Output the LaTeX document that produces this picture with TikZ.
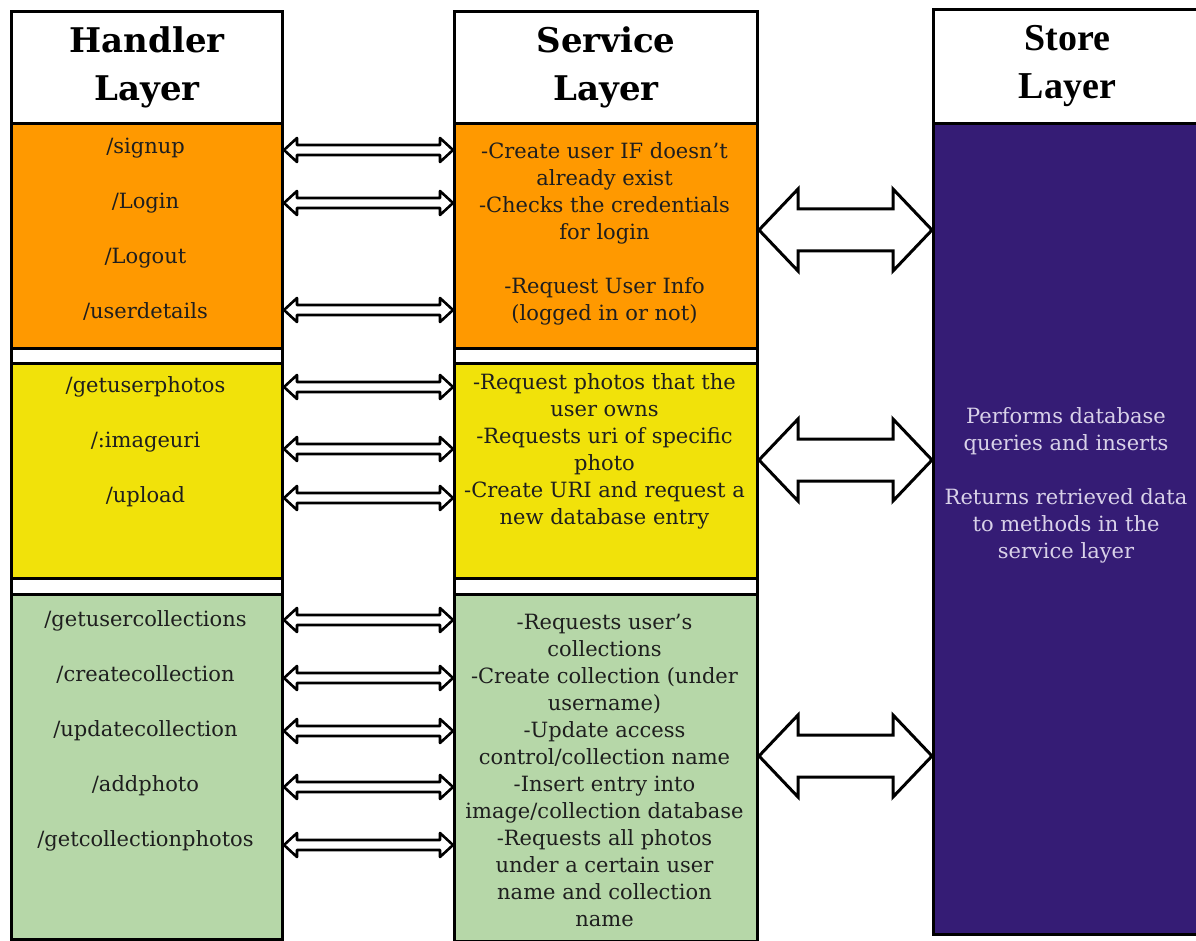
\documentclass[tikz,border=0pt]{standalone}
\usepackage{fontspec}
\setmainfont{DejaVu Serif}
\newfontfamily\timesfont{Liberation Serif}
\usetikzlibrary{calc}
\definecolor{orangeB}{HTML}{FF9900}
\definecolor{yellowB}{HTML}{F1E20A}
\definecolor{greenB}{HTML}{B6D7A8}
\definecolor{purpleB}{HTML}{351C75}
\definecolor{lavender}{HTML}{D9D2E9}
\definecolor{txt}{HTML}{1E1E1E}
% #1 left node, #2 right node, #3 y, #4 head length, #5 head half height, #6 shaft half height, #7 style
\newcommand{\dArrow}[7]{%
  \draw[#7] let \p1=(#1.east |- 0,#3), \p2=(#2.west |- 0,#3) in
  (\x1,\y1) -- (\x1+#4,\y1+#5) -- (\x1+#4,\y1+#6) -- (\x2-#4,\y1+#6)
  -- (\x2-#4,\y1+#5) -- (\x2,\y1) -- (\x2-#4,\y1-#5) -- (\x2-#4,\y1-#6)
  -- (\x1+#4,\y1-#6) -- (\x1+#4,\y1-#5) -- cycle;}
\begin{document}
\begin{tikzpicture}[x=1pt,y=-1pt,
  box/.style={draw=black, line width=3pt, rectangle, inner sep=0pt, anchor=north west},
  hdr/.style={font=\fontsize{34}{48}\selectfont\bfseries, align=center, text=black},
  shdr/.style={font=\timesfont\fontsize{38}{48}\selectfont\bfseries, align=center, text=black},
  item/.style={font=\fontsize{21}{55}\selectfont, align=center, text=txt},
  desc/.style={font=\fontsize{21}{27}\selectfont, align=center, text=txt},
  smallarr/.style={draw=black, line width=2.6pt, fill=white, line join=round},
  bigarr/.style={draw=black, line width=3pt, fill=white, line join=miter}]
\useasboundingbox[fill=white] (0,0) rectangle (1196,941);

% Handler column
\node[box, fill=white, minimum width=271pt, minimum height=112pt, hdr] (hh) at (10,10) {Handler\\Layer};
\node[box, fill=orangeB, minimum width=271pt, minimum height=225pt] (ho) at (10,122) {};
\node[box, fill=white, minimum width=271pt, minimum height=15pt] (hw1) at (10,347) {};
\node[box, fill=yellowB, minimum width=271pt, minimum height=215pt] (hy) at (10,362) {};
\node[box, fill=white, minimum width=271pt, minimum height=16pt] (hw2) at (10,577) {};
\node[box, fill=greenB, minimum width=271pt, minimum height=345pt] (hg) at (10,593) {};

% Service column
\node[box, fill=white, minimum width=303pt, minimum height=112pt, hdr] (sh) at (453,10) {Service\\Layer};
\node[box, fill=orangeB, minimum width=303pt, minimum height=225pt] (so) at (453,122) {};
\node[box, fill=white, minimum width=303pt, minimum height=15pt] (sw1) at (453,347) {};
\node[box, fill=yellowB, minimum width=303pt, minimum height=215pt] (sy) at (453,362) {};
\node[box, fill=white, minimum width=303pt, minimum height=16pt] (sw2) at (453,577) {};
\node[box, fill=greenB, minimum width=303pt, minimum height=347pt] (sg) at (453,593) {};

% Store column
\node[box, fill=white, minimum width=268pt, minimum height=114pt, shdr] (th) at (932,8) {Store\\Layer};
\node[box, fill=purpleB, minimum width=268pt, minimum height=811pt] (tp) at (932,122) {};

% Handler texts
\node[item] (hot) at (145.5,229.5) {/signup\\/Login\\/Logout\\/userdetails};
\node[item] (hyt) at (145.5,442) {/getuserphotos\\/:imageuri\\/upload};
\node[item] (hgt) at (145.5,730.5) {/getusercollections\\/createcollection\\/updatecollection\\/addphoto\\/getcollectionphotos};

% Service texts
\node[desc] (sot) at (604.5,233.5) {-Create user IF doesn't\\already exist\\-Checks the credentials\\for login\\[27pt]-Request User Info\\(logged in or not)};
\node[desc] (syt) at (604.5,451.5) {-Request photos that the\\user owns\\-Requests uri of specific\\photo\\-Create URI and request a\\new database entry};
\node[desc] (sgt) at (604.5,770) {-Requests user's\\collections\\-Create collection (under\\username)\\-Update access\\control/collection name\\-Insert entry into\\image/collection database\\-Requests all photos\\under a certain user\\name and collection\\name};

% Store text
\node[desc, text=lavender] (tpt) at (1066,485.5) {Performs database\\queries and inserts\\[27pt]Returns retrieved data\\to methods in the\\service layer};

% Small arrows
\foreach \yy in {150,203,310}{\dArrow{ho}{so}{\yy}{13pt}{12pt}{5pt}{smallarr}}
\foreach \yy in {387,449,498}{\dArrow{hy}{sy}{\yy}{13pt}{12pt}{5pt}{smallarr}}
\foreach \yy in {620,678,731,787,845}{\dArrow{hg}{sg}{\yy}{13pt}{12pt}{5pt}{smallarr}}

% Big arrows
\dArrow{so}{tp}{230}{39pt}{41pt}{21pt}{bigarr}
\dArrow{sy}{tp}{460}{39pt}{41pt}{21pt}{bigarr}
\dArrow{sg}{tp}{756}{39pt}{41pt}{21pt}{bigarr}
\end{tikzpicture}
\end{document}
